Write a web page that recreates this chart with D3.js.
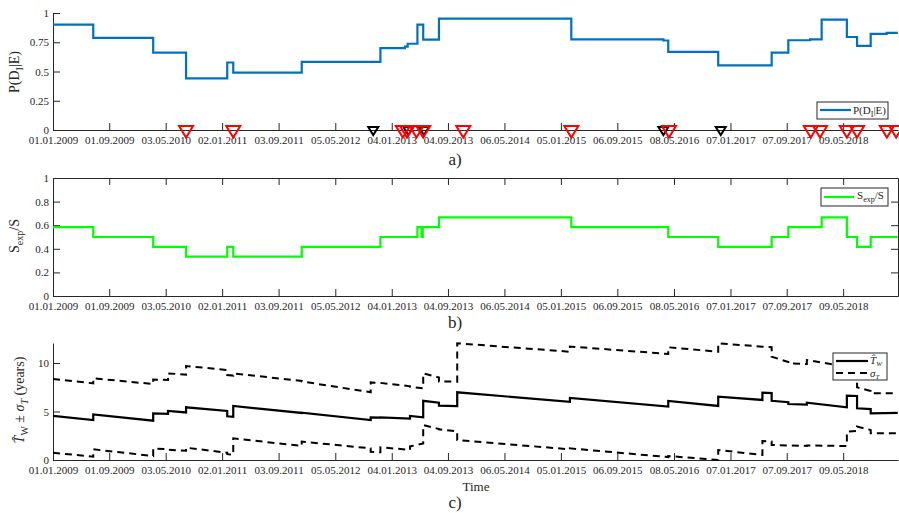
<!DOCTYPE html>
<html>
<head>
<meta charset="utf-8">
<script src="https://cdn.jsdelivr.net/npm/d3@7"></script>
<style>
  body { margin: 0; background: #fff; }
  svg text { font-family: "Liberation Serif", "Times New Roman", serif; fill: #262626; }
</style>
</head>
<body>
<div id="chart"></div>
<script>
// x tick labels (shared by all three panels)
var tickLabels = ["01.01.2009", "01.09.2009", "03.05.2010", "02.01.2011", "03.09.2011",
  "05.05.2012", "04.01.2013", "04.09.2013", "06.05.2014", "05.01.2015", "06.09.2015",
  "08.05.2016", "07.01.2017", "07.09.2017", "09.05.2018"];
var xStart = "01.01.2009";
var xEnd = "01.01.2019";
var dataEnd = "31.12.2018";

// panel a) P(D_I|E), step values
var pDates = ["01.01.2009", "24.06.2009", "10.03.2010", "30.07.2010", "24.01.2011", "19.02.2011",
  "12.12.2011", "16.11.2012", "02.03.2013", "14.03.2013", "25.04.2013", "20.05.2013", "27.07.2013",
  "19.02.2015", "23.03.2016", "13.04.2016", "15.11.2016", "04.07.2017", "14.09.2017", "17.12.2017",
  "05.02.2018", "25.05.2018", "08.07.2018", "05.09.2018", "13.11.2018"];
var pValues = [0.90, 0.787, 0.662, 0.441, 0.577, 0.49,
  0.582, 0.70, 0.712, 0.737, 0.90, 0.773, 0.952,
  0.775, 0.765, 0.668, 0.552, 0.662, 0.767, 0.775,
  0.944, 0.795, 0.719, 0.821, 0.83];

// events on the time axis of panel a)
var redEvents = ["30.07.2010", "19.02.2011", "21.02.2013", "11.03.2013", "21.04.2013", "20.05.2013",
  "09.11.2013", "19.02.2015", "16.04.2016", "20.12.2017", "29.01.2018", "25.05.2018", "08.07.2018",
  "14.11.2018", "24.12.2018"];
var blackEvents = ["16.10.2012", "17.03.2013", "23.05.2013", "23.03.2016", "26.11.2016"];

// panel b) S_exp/S, step values
var sDates = ["01.01.2009", "24.06.2009", "10.03.2010", "30.07.2010", "24.01.2011", "19.02.2011",
  "12.12.2011", "16.11.2012", "25.04.2013", "13.05.2013", "18.05.2013", "27.07.2013",
  "19.02.2015", "13.04.2016", "15.11.2016", "04.07.2017", "14.09.2017", "05.02.2018",
  "25.05.2018", "08.07.2018", "05.09.2018"];
var sValues = [0.583, 0.5, 0.417, 0.333, 0.417, 0.333,
  0.417, 0.5, 0.583, 0.5, 0.583, 0.667,
  0.583, 0.5, 0.417, 0.5, 0.583, 0.667,
  0.5, 0.417, 0.5];

// panel c) segments: value right after each date and just before the next one
var cDates = ["01.01.2009", "24.06.2009", "10.03.2010", "13.05.2010", "30.07.2010", "24.01.2011",
  "19.02.2011", "12.12.2011", "05.10.2012", "16.11.2012", "24.03.2013", "20.05.2013", "27.07.2013",
  "14.10.2013", "13.02.2015", "13.04.2016", "15.11.2016", "25.05.2017", "04.07.2017", "14.09.2017",
  "03.12.2017", "25.05.2018", "08.07.2018", "05.09.2018"];
var twStart = [4.54, 4.7, 4.8, 5.05, 5.43, 4.5, 5.57, 4.88, 4.4, 4.4, 4.54, 6.1, 5.6,
  6.98, 6.4, 6.08, 6.53, 6.94, 6.1, 5.77, 5.9, 6.63, 5.33, 4.8];
var twEnd = [4.12, 4.05, 4.75, 4.9, 5.05, 4.45, 4.85, 4.12, 4.37, 4.26, 4.4, 5.9, 5.55,
  6.0, 5.5, 5.57, 6.19, 6.9, 5.95, 5.7, 5.43, 6.6, 5.25, 4.85];
var upStart = [8.35, 8.42, 8.3, 8.93, 9.69, 8.76, 8.93, 8.1, 8.0, 7.95, 7.55, 8.93, 8.1,
  12.03, 11.7, 11.62, 12.03, 11.68, 10.65, 9.97, 10.3, 9.6, 7.5, 6.87];
var upEnd = [7.9, 7.83, 8.25, 8.8, 9.28, 8.7, 8.15, 6.98, 7.95, 7.6, 7.39, 8.5, 8.07,
  11.16, 10.93, 11.16, 11.68, 11.62, 10.1, 9.9, 9.62, 9.55, 7.1, 6.87];
var loStart = [0.75, 1.1, 1.2, 1.05, 1.27, 0.6, 2.23, 1.9, 0.85, 1.3, 1.4, 3.6, 3.16,
  2.06, 1.2, 0.41, 1.03, 1.96, 1.55, 1.5, 1.5, 2.92, 3.44, 2.75];
var loEnd = [0.34, 0.41, 1.1, 0.95, 0.75, 0.55, 1.45, 1.2, 0.8, 1.05, 1.7, 3.2, 2.95,
  1.1, 0.3, 0.0, 0.52, 1.9, 1.5, 1.45, 1.44, 3.0, 3.1, 2.75];

var parseDate = d3.timeParse("%d.%m.%Y");
var formatDate = d3.timeFormat("%d.%m.%Y");
var axisColor = "#262626";
var serif = "'Liberation Serif', 'Times New Roman', serif";

var svg = d3.select("#chart")
  .append("svg")
  .attr("width", 899)
  .attr("height", 513)
  .attr("font-family", serif);

var x = d3.scaleTime()
  .domain([parseDate(xStart), parseDate(xEnd)])
  .range([53, 898]);

var tickDates = tickLabels.map(parseDate);

var yA = d3.scaleLinear().domain([0, 1]).range([130, 13]);
var yB = d3.scaleLinear().domain([0, 1]).range([296, 178]);
var yC = d3.scaleLinear().domain([0, 12.05]).range([460, 343.1]);

function styleAxis(g) {
  g.attr("color", axisColor)
    .attr("font-size", 11)
    .attr("font-family", serif);
  g.selectAll("path, line").attr("stroke-width", 1);
}

function drawAxes(y, yTicks, yFormat, box) {
  svg.append("g")
    .attr("transform", `translate(0, ${y.range()[0]})`)
    .call(d3.axisBottom(x).tickValues(tickDates).tickFormat(formatDate)
      .tickSizeInner(-7).tickSizeOuter(0).tickPadding(6))
    .call(styleAxis);

  svg.append("g")
    .attr("transform", `translate(${x.range()[0]}, 0)`)
    .call(d3.axisLeft(y).tickValues(yTicks).tickFormat(yFormat)
      .tickSizeInner(-7).tickSizeOuter(0).tickPadding(4))
    .call(styleAxis);

  if (box) {
    svg.append("g")
      .attr("transform", `translate(0, ${y.range()[1]})`)
      .call(d3.axisTop(x).tickValues(tickDates).tickFormat("")
        .tickSizeInner(-7).tickSizeOuter(0))
      .call(styleAxis);
    svg.append("g")
      .attr("transform", `translate(${x.range()[1]}, 0)`)
      .call(d3.axisRight(y).tickValues(yTicks).tickFormat("")
        .tickSizeInner(-7).tickSizeOuter(0))
      .call(styleAxis);
  }
}

function stepPoints(dates, values) {
  var pts = dates.map((d, i) => ({ date: parseDate(d), v: values[i] }));
  pts.push({ date: parseDate(dataEnd), v: values[values.length - 1] });
  return pts;
}

function segPoints(starts, ends) {
  var pts = [];
  cDates.forEach(function(d, i) {
    var next = i < cDates.length - 1 ? cDates[i + 1] : dataEnd;
    pts.push({ date: parseDate(d), v: starts[i] });
    pts.push({ date: parseDate(next), v: ends[i] });
  });
  return pts;
}

// ---------- panel a ----------
drawAxes(yA, [0, 0.25, 0.5, 0.75, 1], d3.format(""), false);

var stepLineA = d3.line().x(d => x(d.date)).y(d => yA(d.v)).curve(d3.curveStepAfter);
svg.append("path")
  .datum(stepPoints(pDates, pValues))
  .attr("d", stepLineA)
  .attr("fill", "none")
  .attr("stroke", "#0072BD")
  .attr("stroke-width", 2.2);

function triangle(cx, halfW, top, bottom) {
  return `M${cx - halfW},${top}L${cx + halfW},${top}L${cx},${bottom}Z`;
}

svg.selectAll(".ev-black")
  .data(blackEvents)
  .enter()
  .append("path")
  .attr("class", "ev-black")
  .attr("d", d => triangle(x(parseDate(d)), 5, yA(0) - 3, yA(0) + 5))
  .attr("fill", "none")
  .attr("stroke", "#000")
  .attr("stroke-width", 2);

svg.selectAll(".ev-red")
  .data(redEvents)
  .enter()
  .append("path")
  .attr("class", "ev-red")
  .attr("d", d => triangle(x(parseDate(d)), 7, yA(0) - 4, yA(0) + 7.5))
  .attr("fill", "none")
  .attr("stroke", "#ff0000")
  .attr("stroke-width", 2);

// y label a
var labA = svg.append("text")
  .attr("transform", "translate(19, 72) rotate(-90)")
  .attr("text-anchor", "middle")
  .attr("font-size", 14);
labA.append("tspan").text("P(D");
labA.append("tspan").attr("dy", 4).attr("font-size", 10).text("I");
labA.append("tspan").attr("dy", -4).text("|E)");

// legend a
var legA = svg.append("g");
legA.append("rect")
  .attr("x", 817).attr("y", 102).attr("width", 71).attr("height", 17)
  .attr("fill", "#fff").attr("stroke", axisColor).attr("stroke-width", 1);
legA.append("line")
  .attr("x1", 820).attr("x2", 851).attr("y1", 110).attr("y2", 110)
  .attr("stroke", "#0072BD").attr("stroke-width", 2.2);
var legAText = legA.append("text").attr("x", 853).attr("y", 113.5).attr("font-size", 11);
legAText.append("tspan").text("P(D");
legAText.append("tspan").attr("dy", 3).attr("font-size", 8).text("I");
legAText.append("tspan").attr("dy", -3).text("|E)");

svg.append("text")
  .attr("x", 455).attr("y", 165)
  .attr("text-anchor", "middle")
  .attr("font-size", 17)
  .text("a)");

// ---------- panel b ----------
drawAxes(yB, [0, 0.2, 0.4, 0.6, 0.8, 1], d3.format(""), true);

var stepLineB = d3.line().x(d => x(d.date)).y(d => yB(d.v)).curve(d3.curveStepAfter);
svg.append("path")
  .datum(stepPoints(sDates, sValues))
  .attr("d", stepLineB)
  .attr("fill", "none")
  .attr("stroke", "#00ff00")
  .attr("stroke-width", 2.2);

var labB = svg.append("text")
  .attr("transform", "translate(19, 236) rotate(-90)")
  .attr("text-anchor", "middle")
  .attr("font-size", 14);
labB.append("tspan").text("S");
labB.append("tspan").attr("dy", 4).attr("font-size", 10).text("exp");
labB.append("tspan").attr("dy", -4).text("/S");

var legB = svg.append("g");
legB.append("rect")
  .attr("x", 821).attr("y", 188).attr("width", 67).attr("height", 18)
  .attr("fill", "#fff").attr("stroke", axisColor).attr("stroke-width", 1);
legB.append("line")
  .attr("x1", 824).attr("x2", 854).attr("y1", 197).attr("y2", 197)
  .attr("stroke", "#00ff00").attr("stroke-width", 2.2);
var legBText = legB.append("text").attr("x", 857).attr("y", 199).attr("font-size", 11);
legBText.append("tspan").text("S");
legBText.append("tspan").attr("dy", 3).attr("font-size", 8).text("exp");
legBText.append("tspan").attr("dy", -3).text("/S");

svg.append("text")
  .attr("x", 455).attr("y", 328)
  .attr("text-anchor", "middle")
  .attr("font-size", 17)
  .text("b)");

// ---------- panel c ----------
drawAxes(yC, [0, 5, 10], d3.format(""), false);

var lineC = d3.line().x(d => x(d.date)).y(d => yC(d.v));

svg.append("path")
  .datum(segPoints(upStart, upEnd))
  .attr("d", lineC)
  .attr("fill", "none")
  .attr("stroke", "#000")
  .attr("stroke-width", 2)
  .attr("stroke-dasharray", "7,5");

svg.append("path")
  .datum(segPoints(loStart, loEnd))
  .attr("d", lineC)
  .attr("fill", "none")
  .attr("stroke", "#000")
  .attr("stroke-width", 2)
  .attr("stroke-dasharray", "7,5");

svg.append("path")
  .datum(segPoints(twStart, twEnd))
  .attr("d", lineC)
  .attr("fill", "none")
  .attr("stroke", "#000")
  .attr("stroke-width", 2.2);

var labC = svg.append("text")
  .attr("transform", "translate(24, 400) rotate(-90)")
  .attr("text-anchor", "middle")
  .attr("font-size", 14);
labC.append("tspan").attr("font-style", "italic").text("T\u0302");
labC.append("tspan").attr("dy", 4).attr("font-size", 10).text("W");
labC.append("tspan").attr("dy", -4).text(" \u00b1 ");
labC.append("tspan").attr("font-style", "italic").text("\u03c3");
labC.append("tspan").attr("dy", 4).attr("font-size", 10).attr("font-style", "italic").text("T");
labC.append("tspan").attr("dy", -4).text(" (years)");

var legC = svg.append("g");
legC.append("rect")
  .attr("x", 833).attr("y", 353).attr("width", 54).attr("height", 27)
  .attr("fill", "#fff").attr("stroke", axisColor).attr("stroke-width", 1);
legC.append("line")
  .attr("x1", 836).attr("x2", 868).attr("y1", 361).attr("y2", 361)
  .attr("stroke", "#000").attr("stroke-width", 2.2);
legC.append("line")
  .attr("x1", 836).attr("x2", 868).attr("y1", 373).attr("y2", 373)
  .attr("stroke", "#000").attr("stroke-width", 2).attr("stroke-dasharray", "7,5");
var legC1 = legC.append("text").attr("x", 870).attr("y", 364).attr("font-size", 11).attr("font-style", "italic");
legC1.append("tspan").text("T\u0302");
legC1.append("tspan").attr("dy", 1.5).attr("font-size", 7).text("W");
var legC2 = legC.append("text").attr("x", 870).attr("y", 377).attr("font-size", 11).attr("font-style", "italic");
legC2.append("tspan").text("\u03c3");
legC2.append("tspan").attr("dy", 1.5).attr("font-size", 7).text("T");

svg.append("text")
  .attr("x", 476).attr("y", 491)
  .attr("text-anchor", "middle")
  .attr("font-size", 13)
  .text("Time");

svg.append("text")
  .attr("x", 455).attr("y", 508)
  .attr("text-anchor", "middle")
  .attr("font-size", 17)
  .text("c)");
</script>
</body>
</html>
